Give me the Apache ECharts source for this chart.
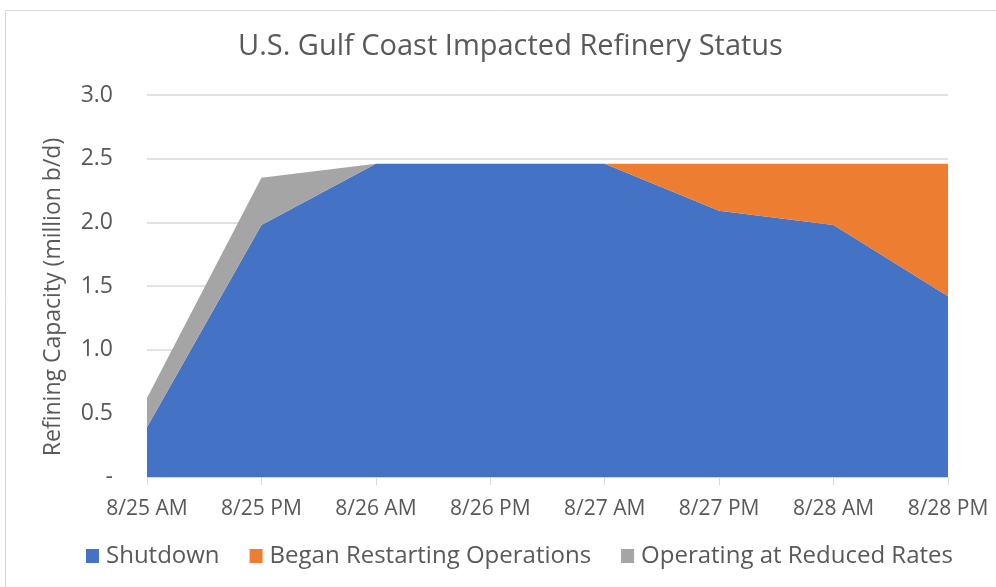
<!DOCTYPE html>
<html>
<head>
<meta charset="utf-8">
<script src="https://cdn.jsdelivr.net/npm/echarts@6/dist/echarts.min.js"></script>
<style>
  html, body { margin: 0; padding: 0; background: #fff; }
  #main { width: 996px; height: 587px; }
</style>
</head>
<body>
<div id="main"></div>
<script>
const categories = ['8/25 AM', '8/25 PM', '8/26 AM', '8/26 PM', '8/27 AM', '8/27 PM', '8/28 AM', '8/28 PM'];
const shutdown = [0.39, 1.98, 2.46, 2.46, 2.46, 2.09, 1.98, 1.42];
const restarting = [0, 0, 0, 0, 0, 0.37, 0.48, 1.04];
const reduced = [0.23, 0.37, 0, 0, 0, 0, 0, 0];

const font = '"Open Sans", sans-serif';
const grey = '#595959';

function areaSeries(name, data, color) {
    return {
        name: name,
        type: 'line',
        stack: 'total',
        data: data,
        symbol: 'none',
        lineStyle: { width: 0 },
        areaStyle: { color: color, opacity: 1 },
        itemStyle: { color: color }
    };
}

const option = {
    animation: false,
    textStyle: { fontFamily: font },
    graphic: [{
        type: 'rect',
        shape: { x: 5.5, y: 10.5, width: 996, height: 590 },
        style: { fill: 'none', stroke: '#d9d9d9', lineWidth: 1 }
    }],
    title: {
        text: 'U.S. Gulf Coast Impacted Refinery Status',
        left: 233,
        top: 27,
        textStyle: { fontFamily: font, fontSize: 29, fontWeight: 'normal', color: grey }
    },
    legend: {
        bottom: 14,
        left: 81,
        itemWidth: 13,
        itemHeight: 14,
        itemGap: 30,
        icon: 'rect',
        textStyle: { fontFamily: font, fontSize: 24, color: grey, padding: [0, 0, 0, 2] },
        data: ['Shutdown', 'Began Restarting Operations', 'Operating at Reduced Rates']
    },
    grid: { left: 147, right: 48, top: 95, bottom: 110 },
    xAxis: {
        type: 'category',
        boundaryGap: false,
        data: categories,
        axisLine: { show: true, lineStyle: { color: '#d9d9d9' } },
        axisTick: { show: true, length: 8, lineStyle: { color: '#d9d9d9' } },
        axisLabel: { fontFamily: font, fontSize: 21, color: grey, margin: 22 }
    },
    yAxis: {
        type: 'value',
        min: 0,
        max: 3,
        interval: 0.5,
        name: 'Refining Capacity (million b/d)',
        nameLocation: 'middle',
        nameGap: 82,
        nameTextStyle: { fontFamily: font, fontSize: 23, color: grey, padding: [0, 22, 0, 0] },
        axisLine: { show: false },
        axisTick: { show: false },
        splitLine: { lineStyle: { color: '#d9d9d9', width: 1.5 } },
        axisLabel: {
            fontFamily: font, fontSize: 23, color: grey, margin: 34,
            formatter: function (v) { return v === 0 ? '-' : v.toFixed(1); }
        }
    },
    series: [
        areaSeries('Shutdown', shutdown, '#4472C4'),
        areaSeries('Began Restarting Operations', restarting, '#ED7D31'),
        areaSeries('Operating at Reduced Rates', reduced, '#A5A5A5')
    ]
};

var myChart = echarts.init(document.getElementById('main'));
myChart.setOption(option);
</script>
</body>
</html>
